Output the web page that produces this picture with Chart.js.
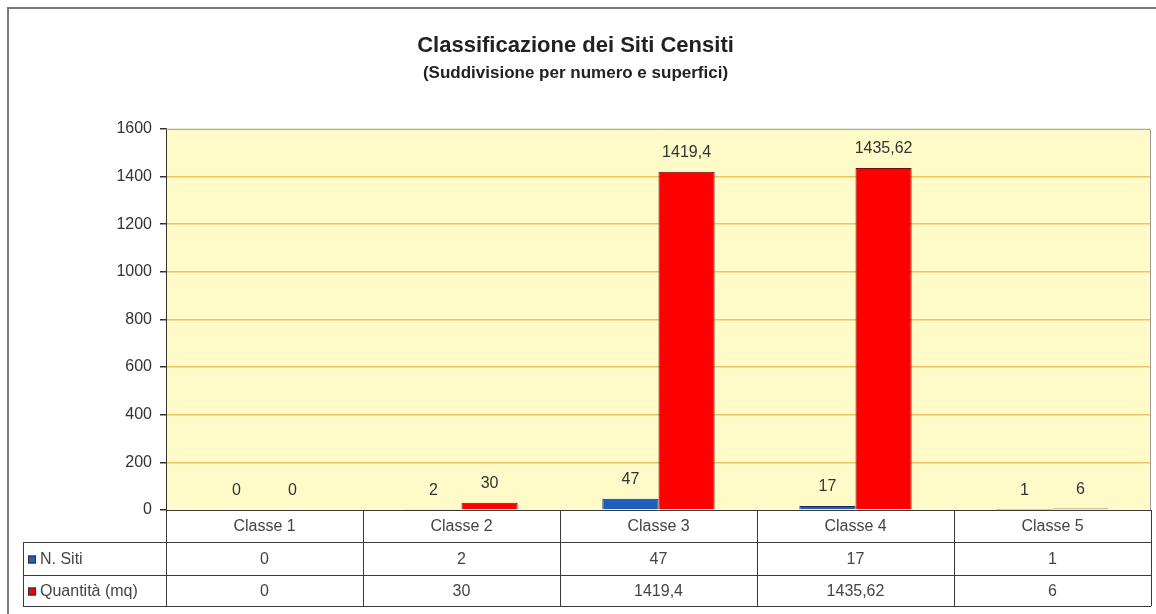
<!DOCTYPE html>
<html>
<head>
<meta charset="utf-8">
<script src="https://cdn.jsdelivr.net/npm/chart.js@4/dist/chart.umd.min.js"></script>
<style>
  html, body { margin: 0; padding: 0; background: #fff; }
  #wrap { position: relative; width: 1156px; height: 614px; overflow: hidden; }
  #frame { position: absolute; left: 7px; top: 7px; width: 1170px; height: 640px; border: 2px solid #7a7a7a; box-sizing: border-box; pointer-events: none; }
  canvas { position: absolute; left: 0; top: 0; }
</style>
</head>
<body>
<div id="wrap">
  <canvas id="c" width="1156" height="614"></canvas>
  <div id="frame"></div>
</div>
<script>
const categories = ['Classe 1', 'Classe 2', 'Classe 3', 'Classe 4', 'Classe 5'];
const seriesNames = ['N. Siti', 'Quantità (mq)'];
const nSiti = [0, 2, 47, 17, 1];
const quantita = [0, 30, 1419.4, 1435.62, 6];
const yTicks = [0, 200, 400, 600, 800, 1000, 1200, 1400, 1600];
const seriesColors = ['#1f5fc0', '#ff0000'];

const FONT = '"Liberation Sans", Arial, sans-serif';
const TXT = 16;
const fmt = v => String(v).replace('.', ',');

const bgPlugin = {
  id: 'bg',
  beforeDraw(chart) {
    const a = chart.chartArea, ctx = chart.ctx;
    ctx.save();
    ctx.fillStyle = '#fffbc9';
    ctx.fillRect(a.left, a.top, a.right - a.left, a.bottom - a.top);
    ctx.restore();
  },
  afterDraw(chart) {
    const a = chart.chartArea, ctx = chart.ctx;
    ctx.save();
    ctx.strokeStyle = '#9a9a9a';
    ctx.lineWidth = 1;
    ctx.beginPath();
    ctx.moveTo(a.left, a.top + 0.5);
    ctx.lineTo(a.right - 0.5, a.top + 0.5);
    ctx.lineTo(a.right - 0.5, a.bottom);
    ctx.stroke();
    ctx.restore();
  }
};

const labelPlugin = {
  id: 'vlabels',
  afterDatasetsDraw(chart) {
    const ctx = chart.ctx;
    ctx.save();
    ctx.font = TXT + 'px ' + FONT;
    ctx.fillStyle = '#333';
    ctx.textAlign = 'center';
    ctx.textBaseline = 'middle';
    chart.data.datasets.forEach((ds, di) => {
      const meta = chart.getDatasetMeta(di);
      meta.data.forEach((bar, i) => {
        ctx.fillText(fmt(ds.data[i]), bar.x, bar.y - 19);
      });
    });
    ctx.restore();
  }
};

const tablePlugin = {
  id: 'datatable',
  afterDraw(chart) {
    const ctx = chart.ctx;
    const a = chart.chartArea;
    const x = chart.scales.x;
    const n = categories.length;
    const colW = (a.right - a.left) / n;
    const y0 = a.bottom;
    const rowH = [32, 33, 31];
    const ys = [y0, y0 + rowH[0], y0 + rowH[0] + rowH[1], y0 + rowH[0] + rowH[1] + rowH[2]];
    const legLeft = 23;
    ctx.save();
    ctx.strokeStyle = '#3a3a3a';
    ctx.lineWidth = 1;
    ctx.beginPath();
    ctx.moveTo(a.left, ys[0] + 0.5); ctx.lineTo(a.right, ys[0] + 0.5);
    for (let r = 1; r <= 3; r++) {
      ctx.moveTo(legLeft, ys[r] + 0.5); ctx.lineTo(a.right, ys[r] + 0.5);
    }
    for (let i = 0; i <= n; i++) {
      const xx = Math.round(a.left + i * colW) + 0.5;
      ctx.moveTo(xx, ys[0]); ctx.lineTo(xx, ys[3]);
    }
    ctx.moveTo(legLeft + 0.5, ys[1]); ctx.lineTo(legLeft + 0.5, ys[3]);
    ctx.stroke();

    ctx.font = TXT + 'px ' + FONT;
    ctx.fillStyle = '#444';
    ctx.textAlign = 'center';
    ctx.textBaseline = 'middle';
    const rows = [categories, nSiti.map(fmt), quantita.map(fmt)];
    rows.forEach((row, r) => {
      const cy = (ys[r] + ys[r + 1]) / 2 + 1;
      row.forEach((t, i) => {
        ctx.fillText(t, x.getPixelForValue(i), cy);
      });
    });
    ctx.textAlign = 'left';
    seriesNames.forEach((name, s) => {
      const cy = (ys[s + 1] + ys[s + 2]) / 2 + 1;
      ctx.fillStyle = seriesColors[s];
      ctx.fillRect(28, cy - 4, 8, 8);
      ctx.strokeStyle = '#333';
      ctx.strokeRect(28.5, cy - 3.5, 7, 7);
      ctx.fillStyle = '#444';
      ctx.fillText(name, 40, cy);
    });
    ctx.restore();
  }
};

new Chart(document.getElementById('c'), {
  type: 'bar',
  data: {
    labels: categories,
    datasets: [
      { label: seriesNames[0], data: nSiti, backgroundColor: seriesColors[0], borderColor: '#1a2a55', borderWidth: 1 },
      { label: seriesNames[1], data: quantita, backgroundColor: seriesColors[1], borderColor: '#661111', borderWidth: 1 }
    ]
  },
  options: {
    responsive: false,
    animation: false,
    devicePixelRatio: 1,
    layout: { padding: { left: 0, right: 5, top: 0, bottom: 104 } },
    datasets: { bar: { categoryPercentage: 0.57, barPercentage: 1.0 } },
    plugins: {
      legend: { display: false },
      tooltip: { enabled: false },
      title: {
        display: true,
        text: 'Classificazione dei Siti Censiti',
        color: '#222',
        font: { family: FONT, size: 22, weight: 'bold' },
        padding: { top: 33, bottom: 4 }
      },
      subtitle: {
        display: true,
        text: '(Suddivisione per numero e superfici)',
        color: '#222',
        font: { family: FONT, size: 17, weight: 'bold' },
        padding: { top: 0, bottom: 45 }
      }
    },
    scales: {
      x: { display: false },
      y: {
        min: 0,
        max: 1600,
        afterFit(scale) { scale.width = 166; },
        afterBuildTicks(scale) { scale.ticks = yTicks.map(v => ({ value: v })); },
        ticks: {
          color: '#333',
          padding: 8,
          font: { family: FONT, size: TXT },
          callback: v => String(v)
        },
        grid: {
          color: ctx => (ctx.tick && (ctx.tick.value === 0 || ctx.tick.value === 1600)) ? 'rgba(0,0,0,0)' : '#f0c25e',
          lineWidth: 1.5,
          tickLength: 6,
          tickColor: '#333'
        },
        border: { display: true, color: '#333', width: 1 }
      }
    }
  },
  plugins: [bgPlugin, labelPlugin, tablePlugin]
});
</script>
</body>
</html>
